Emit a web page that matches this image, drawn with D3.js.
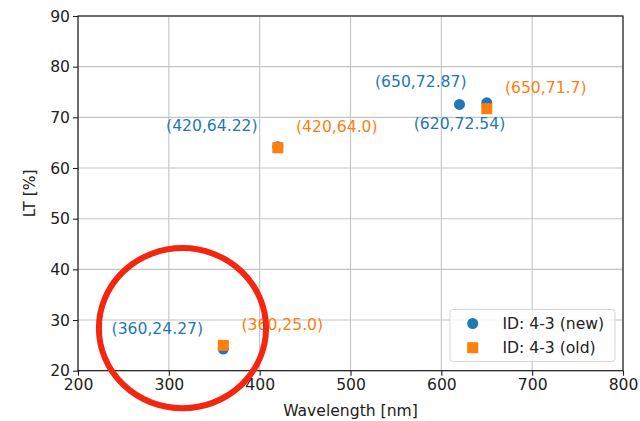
<!DOCTYPE html>
<html>
<head>
<meta charset="utf-8">
<script src="https://cdn.jsdelivr.net/npm/d3@7"></script>
<style>
  body { margin: 0; background: #fff; }
  svg text { font-family: "DejaVu Sans", sans-serif; }
</style>
</head>
<body>
<div id="chart"></div>
<script>
// data
var newWave = [360, 420, 620, 650];
var newLT   = [24.27, 64.22, 72.54, 72.87];
var newText = ["(360,24.27)", "(420,64.22)", "(650,72.87)", "(620,72.54)"];
var newTextAt = [0, 1, 3, 2]; // which point each label sits on

var oldWave = [360, 420, 650];
var oldLT   = [25.0, 64.0, 71.7];
var oldText = ["(360,25.0)", "(420,64.0)", "(650,71.7)"];

var xTicks = [200, 300, 400, 500, 600, 700, 800];
var yTicks = [20, 30, 40, 50, 60, 70, 80, 90];
var seriesNames = ["ID: 4-3 (new)", "ID: 4-3 (old)"];
var ring = {x: 315, y: 28.4, rx: 92, ry: 15.8};

var W = 640, H = 421;
var padL = 78, padR = 623, padT = 16, padB = 370.7;
var blue = "#1f77b4", orange = "#ff7f0e";
var fs = 15.6;

var svg = d3.select("#chart").append("svg").attr("width", W).attr("height", H);

var x = d3.scaleLinear().domain([200, 800]).range([padL, padR]);
var y = d3.scaleLinear().domain([20, 90]).range([padB, padT]);

// grid
svg.append("g").selectAll("line").data(xTicks).enter().append("line")
  .attr("x1", function(d){return x(d)}).attr("x2", function(d){return x(d)})
  .attr("y1", padT).attr("y2", padB)
  .attr("stroke", "#c4c4c4").attr("stroke-width", 1.1);
svg.append("g").selectAll("line").data(yTicks).enter().append("line")
  .attr("y1", function(d){return y(d)}).attr("y2", function(d){return y(d)})
  .attr("x1", padL).attr("x2", padR)
  .attr("stroke", "#c4c4c4").attr("stroke-width", 1.1);

// axes
var xAxis = svg.append("g").attr("transform", "translate(0," + padB + ")")
  .call(d3.axisBottom(x).tickValues(xTicks).tickSize(5).tickPadding(3).tickFormat(d3.format("d")));
var yAxis = svg.append("g").attr("transform", "translate(" + padL + ",0)")
  .call(d3.axisLeft(y).tickValues(yTicks).tickSize(5).tickPadding(3).tickFormat(d3.format("d")));
[xAxis, yAxis].forEach(function(a){
  a.select(".domain").remove();
  a.selectAll("text").attr("font-size", fs).attr("fill", "#222").style("font-family", "DejaVu Sans");
  a.selectAll("line").attr("stroke", "#222").attr("stroke-width", 1.1);
});

// frame
svg.append("rect").attr("x", padL).attr("y", padT).attr("width", padR - padL).attr("height", padB - padT)
  .attr("fill", "none").attr("stroke", "#111").attr("stroke-width", 1.1);

// axis labels
svg.append("text").attr("x", (padL + padR) / 2).attr("y", 416).attr("text-anchor", "middle")
  .attr("font-size", fs).attr("fill", "#222").text("Wavelength [nm]");
svg.append("text").attr("transform", "translate(35," + (padT + padB) / 2 + ") rotate(-90)")
  .attr("text-anchor", "middle").attr("font-size", fs).attr("fill", "#222").text("LT [%]");

// points
svg.append("g").selectAll("circle").data(d3.range(newWave.length)).enter().append("circle")
  .attr("cx", function(i){return x(newWave[i])}).attr("cy", function(i){return y(newLT[i])})
  .attr("r", 5.5).attr("fill", blue);
svg.append("g").selectAll("rect").data(d3.range(oldWave.length)).enter().append("rect")
  .attr("x", function(i){return x(oldWave[i]) - 5.5}).attr("y", function(i){return y(oldLT[i]) - 5.5})
  .attr("width", 11).attr("height", 11).attr("fill", orange);

// labels
svg.append("g").selectAll("text").data(d3.range(newText.length)).enter().append("text")
  .attr("x", function(j){var i = newTextAt[j]; return x(newWave[i]) + (newWave[i] == 620 ? 0 : -66)})
  .attr("y", function(j){var i = newTextAt[j]; return y(newLT[i]) + (newWave[i] == 620 ? 19 : -21)})
  .attr("dy", "0.35em").attr("text-anchor", "middle").attr("font-size", fs).attr("fill", blue)
  .text(function(j){return newText[j]});
svg.append("g").selectAll("text").data(d3.range(oldText.length)).enter().append("text")
  .attr("x", function(i){return x(oldWave[i]) + 59})
  .attr("y", function(i){return y(oldLT[i]) - 21})
  .attr("dy", "0.35em").attr("text-anchor", "middle").attr("font-size", fs).attr("fill", orange)
  .text(function(i){return oldText[i]});

// legend
var lg = svg.append("g").attr("transform", "translate(450,309.5)");
lg.append("rect").attr("width", 165).attr("height", 52).attr("rx", 3)
  .attr("fill", "#fff").attr("fill-opacity", 0.8).attr("stroke", "#d6d6d6").attr("stroke-width", 1);
lg.append("circle").attr("cx", 22.7).attr("cy", 14).attr("r", 5.5).attr("fill", blue);
lg.append("rect").attr("x", 17.2).attr("y", 32.7).attr("width", 11).attr("height", 11).attr("fill", orange);
lg.selectAll("text.lab").data(seriesNames).enter().append("text").attr("class", "lab")
  .attr("x", 52.5).attr("y", function(d, i){return 14 + i * 24.4}).attr("dy", "0.35em")
  .attr("font-size", fs).attr("fill", "#222").text(function(d){return d});

// hand-drawn red ring
svg.append("ellipse").attr("cx", x(ring.x)).attr("cy", y(ring.y))
  .attr("rx", x(ring.x + ring.rx) - x(ring.x)).attr("ry", y(ring.y) - y(ring.y + ring.ry))
  .attr("fill", "none").attr("stroke", "#f5260f").attr("stroke-width", 6);
</script>
</body>
</html>
